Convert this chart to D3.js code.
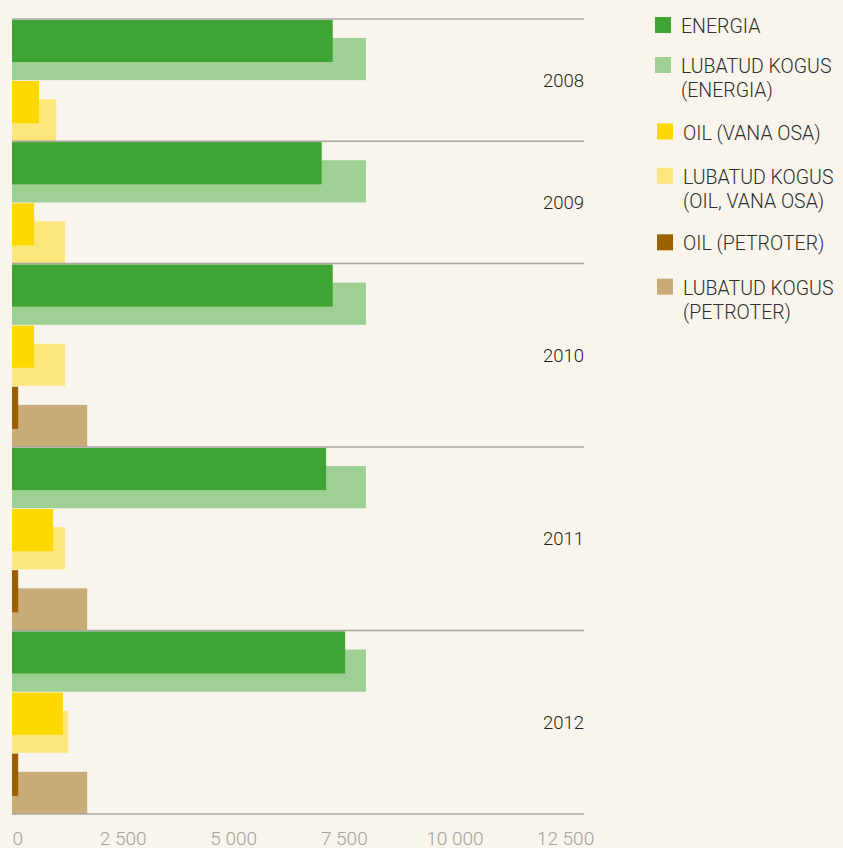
<!DOCTYPE html>
<html>
<head>
<meta charset="utf-8">
<script src="https://cdn.jsdelivr.net/npm/d3@7/dist/d3.min.js"></script>
<style>
  html, body { margin: 0; padding: 0; background: #f9f5ec; }
  svg { display: block; }
</style>
</head>
<body>
<script>
// ---- data ----
const years = ["2008", "2009", "2010", "2011", "2012"];
const energia = [7250, 7000, 7250, 7100, 7530];
const energiaLubatud = [8000, 8000, 8000, 8000, 8000];
const oilVanaOsa = [610, 500, 500, 930, 1150];
const oilVanaOsaLubatud = [1000, 1200, 1200, 1200, 1270];
const petroter = [null, null, 140, 140, 140];
const petroterLubatud = [null, null, 1700, 1700, 1700];
const xTicks = [0, 2500, 5000, 7500, 10000, 12500];
const legendLabels = [
  ["ENERGIA"],
  ["LUBATUD KOGUS", "(ENERGIA)"],
  ["OIL (VANA OSA)"],
  ["LUBATUD KOGUS", "(OIL, VANA OSA)"],
  ["OIL (PETROTER)"],
  ["LUBATUD KOGUS", "(PETROTER)"]
];

// ---- styles ----
const colors = ["#3ea535", "#9ecf93", "#ffd800", "#fde77d", "#9b6100", "#c9ab78"];
const W = 843, H = 848;

const products = [
  { actual: energia, permitted: energiaLubatud, ca: colors[0], cp: colors[1] },
  { actual: oilVanaOsa, permitted: oilVanaOsaLubatud, ca: colors[2], cp: colors[3] },
  { actual: petroter, permitted: petroterLubatud, ca: colors[4], cp: colors[5] }
];

const rows = [];
years.forEach((yr, i) => {
  products.forEach((p, j) => {
    if (p.actual[i] != null) rows.push({ id: yr + "-" + j, yi: i, year: yr, p, actual: p.actual[i], permitted: p.permitted[i] });
  });
});

const svg = d3.select("body").append("svg").attr("width", W).attr("height", H);
svg.append("rect").attr("width", W).attr("height", H).attr("fill", "#f9f5ec");

const x = d3.scaleLinear().domain([0, 12500]).range([12, 565]);
const y = d3.scaleBand().domain(rows.map(r => r.id)).range([19, 814]).paddingInner(0).paddingOuter(0);
const bw = y.bandwidth();

const g = svg.append("g");
// permitted bars (behind)
g.selectAll("rect.perm").data(rows).join("rect")
  .attr("class", "perm")
  .attr("x", x(0))
  .attr("y", d => y(d.id) + bw * 0.31)
  .attr("width", d => x(d.permitted) - x(0))
  .attr("height", bw * 0.69)
  .attr("fill", d => d.p.cp);
// actual bars (front)
g.selectAll("rect.act").data(rows).join("rect")
  .attr("class", "act")
  .attr("x", x(0))
  .attr("y", d => y(d.id) + 0.8)
  .attr("width", d => x(d.actual) - x(0))
  .attr("height", bw * 0.69)
  .attr("fill", d => d.p.ca);

// group separators and year labels
const groups = years.map((yr, i) => {
  const rs = rows.filter(r => r.yi === i);
  return { year: yr, top: y(rs[0].id), bottom: y(rs[rs.length - 1].id) + bw };
});
const lineYs = groups.map(gr => gr.top).concat([groups[groups.length - 1].bottom]);
svg.selectAll("line.sep").data(lineYs).join("line")
  .attr("class", "sep")
  .attr("x1", 12).attr("x2", 584)
  .attr("y1", d => d).attr("y2", d => d)
  .attr("stroke", "#a8a6a0").attr("stroke-width", 1.5);

svg.selectAll("text.year").data(groups).join("text")
  .attr("class", "year")
  .attr("x", 584)
  .attr("y", d => (d.top + d.bottom) / 2)
  .attr("dy", "0.35em")
  .attr("text-anchor", "end")
  .attr("font-family", "Roboto, 'Open Sans', sans-serif")
  .attr("font-size", 18.5)
  .attr("font-weight", 300)
  .attr("fill", "#1f1f1f")
  .text(d => d.year);

// x axis
const fmt = d3.formatLocale({ decimal: ",", thousands: "\u2009", grouping: [3], currency: ["", ""] }).format(",");
const axis = d3.axisBottom(x).tickValues(xTicks).tickSize(0).tickPadding(0)
  .tickFormat(d => fmt(d).replace("\u2009", " "));
const ax = svg.append("g").attr("transform", "translate(0,831)").call(axis);
ax.select(".domain").remove();
ax.selectAll("text")
  .attr("font-family", "Roboto, 'Open Sans', sans-serif")
  .attr("font-size", 19)
  .attr("font-weight", 300)
  .attr("fill", "#a3a19c")
  .attr("dy", "0.71em")
  .attr("text-anchor", (d, i) => i === 0 ? "start" : "middle");

// legend
const legendSteps = [];
let ly = 17;
legendLabels.forEach((lines, i) => {
  legendSteps.push(ly);
  ly += lines.length === 1 ? (i === 0 ? 40 : 44.3) : 66.5;
});
const lg = svg.append("g");
const items = lg.selectAll("g").data(legendLabels).join("g")
  .attr("transform", (d, i) => `translate(${i < 2 ? 655 : 657},${legendSteps[i]})`);
items.append("rect").attr("width", 16).attr("height", 16).attr("fill", (d, i) => colors[i]);
items.each(function (lines) {
  const t = d3.select(this).append("text")
    .attr("x", 26).attr("y", 16)
    .attr("font-family", "Roboto, 'Open Sans', sans-serif")
    .attr("font-size", 19.5)
    .attr("font-weight", 300)
    .attr("fill", "#2e2e2e");
  lines.forEach((ln, k) => {
    t.append("tspan").attr("x", 26).attr("y", 16 + k * 24).text(ln);
  });
});
</script>
</body>
</html>
